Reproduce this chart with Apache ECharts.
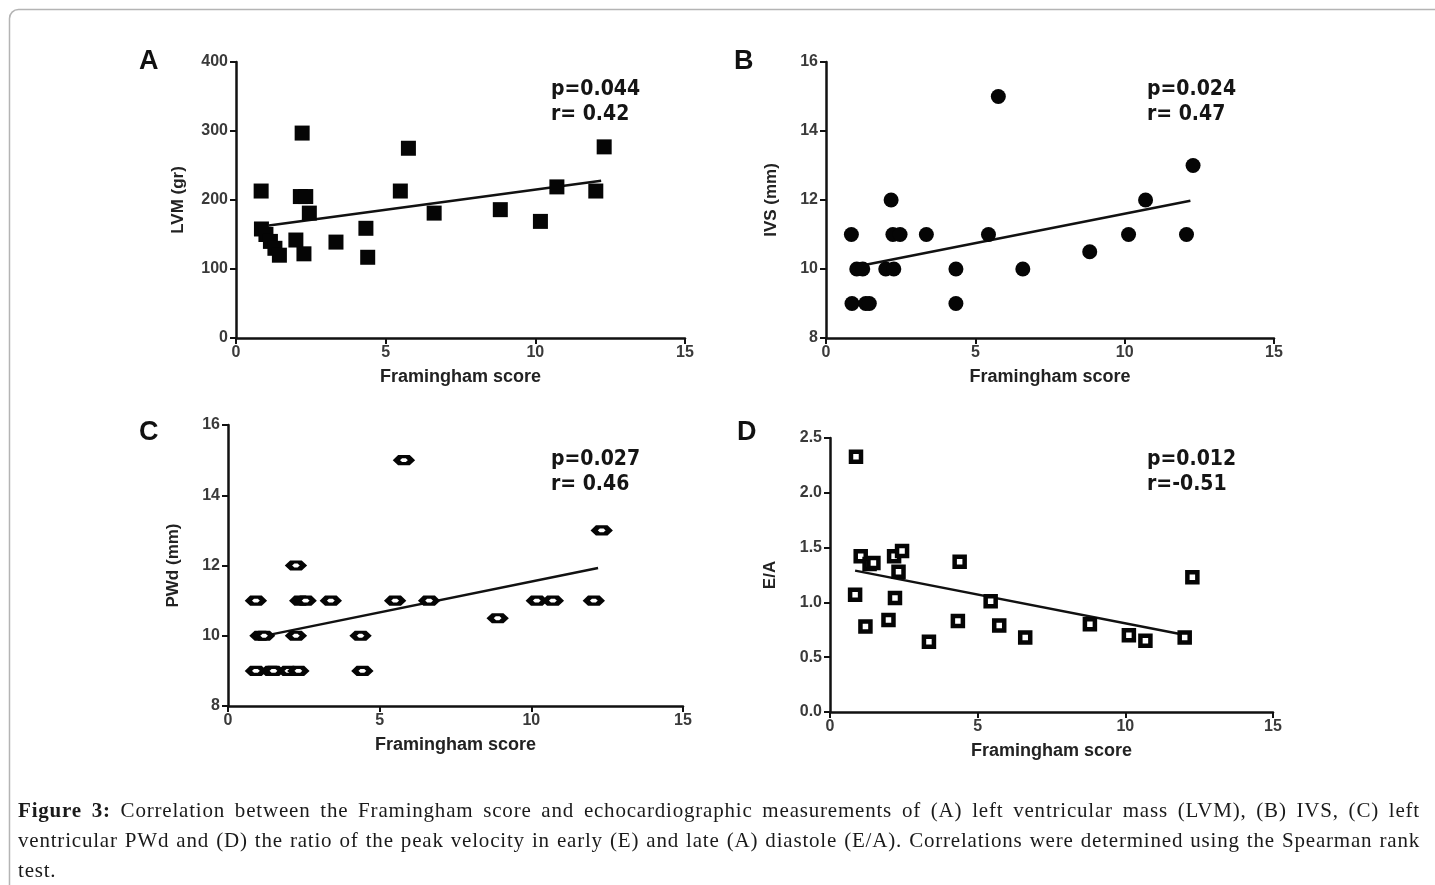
<!DOCTYPE html>
<html>
<head>
<meta charset="utf-8">
<script src="https://cdn.jsdelivr.net/npm/echarts@6/dist/echarts.min.js"></script>
<style>
  html, body { margin: 0; padding: 0; background: #fff; }
  #main { position: absolute; left: 0; top: 0; width: 1435px; height: 885px; }
  #caption {
    position: absolute; left: 18px; top: 795px; width: 1402px;
    font-family: 'Liberation Serif', serif; font-size: 21px; line-height: 30px; color: #1a1a1a;
    letter-spacing: 0.8px;
  }
  #caption .j { text-align: justify; text-align-last: justify; white-space: nowrap; }
</style>
</head>
<body>
<div id="main"></div>
<div id="caption">
  <div class="j"><b>Figure 3:</b> Correlation between the Framingham score and echocardiographic measurements of (A) left ventricular mass (LVM), (B) IVS, (C) left</div>
  <div class="j">ventricular PWd and (D) the ratio of the peak velocity in early (E) and late (A) diastole (E/A). Correlations were determined using the Spearman rank</div>
  <div>test.</div>
</div>
<script>
// A: left ventricular mass
var scoreA = [0.84, 0.85, 1.0, 1.15, 1.3, 1.45, 2.21, 2.15, 2.33, 2.45, 2.0, 2.27, 3.34, 4.34, 4.4, 5.49, 5.76, 6.62, 8.83, 10.17, 10.72, 12.02, 12.3]
var lvm = [213, 158, 150, 140, 130, 120, 297, 205, 205, 181, 142, 122, 139, 159, 117, 213, 275, 181, 186, 169, 219, 213, 277]
var fitA = [[1.1, 163], [12.2, 228]]

// B: IVS
var scoreB = [0.85, 0.87, 1.03, 1.23, 1.33, 1.45, 2.18, 2.0, 2.27, 2.24, 2.48, 3.36, 4.35, 4.35, 5.44, 5.77, 6.59, 8.83, 10.13, 10.7, 12.07, 12.29]
var ivs = [11, 9, 10, 10, 9, 9, 12, 10, 10, 11, 11, 11, 10, 9, 11, 15, 10, 10.5, 11, 12, 11, 13]
var fitB = [[1.2, 10.1], [12.2, 11.98]]

// C: PWd
var scoreC = [0.92, 0.92, 1.07, 1.19, 1.43, 1.5, 1.99, 2.32, 2.24, 2.24, 2.38, 2.56, 3.39, 4.37, 4.43, 5.51, 5.8, 6.63, 8.89, 10.18, 10.71, 12.06, 12.32]
var pwd = [11, 9, 10, 10, 9, 9, 9, 9, 12, 10, 11, 11, 11, 10, 9, 11, 15, 11, 10.5, 11, 11, 11, 13]
var fitC = [[1.15, 9.99], [12.2, 11.93]]

// D: E/A
var scoreD = [0.88, 0.85, 1.04, 1.2, 1.34, 1.47, 1.98, 2.17, 2.32, 2.2, 2.44, 3.35, 4.39, 4.33, 5.44, 5.73, 6.61, 8.8, 10.12, 10.68, 12.01, 12.27]
var ea = [2.33, 1.07, 1.42, 0.78, 1.35, 1.36, 0.84, 1.42, 1.28, 1.04, 1.47, 0.64, 1.37, 0.83, 1.01, 0.79, 0.68, 0.8, 0.7, 0.65, 0.68, 1.23]
var fitD = [[0.85, 1.29], [12.07, 0.7]]

var stats = [['p=0.044', 'r= 0.42'], ['p=0.024', 'r= 0.47'], ['p=0.027', 'r= 0.46'], ['p=0.012', 'r=-0.51']]
var panelNames = ['A', 'B', 'C', 'D']
var yNames = ['LVM (gr)', 'IVS (mm)', 'PWd (mm)', 'E/A']

function zip(xs, ys) {
  return xs.map(function (x, i) { return [x, ys[i]] })
}

var grids = [
  { left: 236, top: 62, width: 449, height: 276 },
  { left: 826, top: 62, width: 448, height: 276 },
  { left: 228, top: 425, width: 455, height: 281 },
  { left: 830, top: 438, width: 443, height: 274 },
]
var yRange = [
  { min: 0, max: 400, interval: 100, gap: 49 },
  { min: 8, max: 16, interval: 2, gap: 46 },
  { min: 8, max: 16, interval: 2, gap: 46 },
  { min: 0, max: 2.5, interval: 0.5, gap: 51 },
]

var axisText = { fontFamily: 'Liberation Sans, Arial', fontWeight: 'bold', color: '#3a3a3a', fontSize: 16 }
var xAxes = []
var yAxes = []
grids.forEach(function (g, i) {
  g.outerBoundsMode = 'none'
  xAxes.push({
    type: 'value', gridIndex: i, min: 0, max: 15, interval: 5,
    name: 'Framingham score', nameLocation: 'middle', nameGap: 30,
    nameTextStyle: { fontFamily: 'Liberation Sans, Arial', fontWeight: 'bold', fontSize: 18, color: '#222' },
    axisLine: { onZero: false, lineStyle: { color: '#111', width: 2.5 } },
    axisTick: { length: 6, lineStyle: { color: '#111', width: 2 } },
    axisLabel: Object.assign({ margin: 7 }, axisText),
    splitLine: { show: false },
  })
  var r = yRange[i]
  yAxes.push({
    type: 'value', gridIndex: i, min: r.min, max: r.max, interval: r.interval,
    name: yNames[i], nameLocation: 'middle', nameGap: r.gap,
    nameTextStyle: { fontFamily: 'Liberation Sans, Arial', fontWeight: 'bold', fontSize: 17, color: '#222' },
    axisLine: { onZero: false, lineStyle: { color: '#111', width: 2.5 } },
    axisTick: { length: 6, lineStyle: { color: '#111', width: 2 } },
    axisLabel: Object.assign({
      margin: 8,
      formatter: i === 3 ? function (v) { return v.toFixed(1) } : '{value}',
    }, axisText),
    splitLine: { show: false },
  })
})

function fitLine(i, pts) {
  return {
    type: 'line', xAxisIndex: i, yAxisIndex: i, data: pts, symbol: 'none',
    lineStyle: { color: '#111', width: 2.5 }, silent: true, z: 2,
  }
}

var hexPath = 'path://M4,0 L12,0 L16,5 L12,10 L4,10 L0,5 Z'

var series = [
  fitLine(0, fitA),
  { type: 'scatter', xAxisIndex: 0, yAxisIndex: 0, data: zip(scoreA, lvm), symbol: 'rect', symbolSize: 15,
    itemStyle: { color: '#050505', opacity: 1 }, z: 3 },
  fitLine(1, fitB),
  { type: 'scatter', xAxisIndex: 1, yAxisIndex: 1, data: zip(scoreB, ivs), symbol: 'circle', symbolSize: 15,
    itemStyle: { color: '#050505', opacity: 1 }, z: 3 },
  fitLine(2, fitC),
  { type: 'scatter', xAxisIndex: 2, yAxisIndex: 2, data: zip(scoreC, pwd), symbol: hexPath, symbolSize: [15, 7],
    itemStyle: { color: '#fff', borderColor: '#050505', borderWidth: 4.5, opacity: 1 }, z: 3 },
  fitLine(3, fitD),
  { type: 'scatter', xAxisIndex: 3, yAxisIndex: 3, data: zip(scoreD, ea), symbol: 'rect', symbolSize: 10,
    itemStyle: { color: '#fff', borderColor: '#050505', borderWidth: 4.5, opacity: 1 }, z: 3 },
]

// panel letters and p / r text
var labelPos = [[139, 48], [734, 48], [139, 419], [737, 419]]
var statPos = [[551, 90], [1147, 90], [551, 460], [1147, 460]]
var graphic = [
  {
    type: 'rect', shape: { x: 9.5, y: 9.5, width: 1600, height: 1000, r: 9 },
    style: { fill: 'none', stroke: '#b4b4b4', lineWidth: 1.5 }, silent: true,
  },
]
panelNames.forEach(function (n, i) {
  graphic.push({
    type: 'text', left: labelPos[i][0], top: labelPos[i][1],
    style: { text: n, font: 'bold 27px "Liberation Sans", Arial', fill: '#111' },
  })
  graphic.push({
    type: 'text', x: statPos[i][0], y: statPos[i][1],
    style: { text: stats[i][0], font: 'bold 21px "DejaVu Sans Condensed", "DejaVu Sans"', fill: '#151515', verticalAlign: 'middle' },
  })
  graphic.push({
    type: 'text', x: statPos[i][0], y: statPos[i][1] + 25,
    style: { text: stats[i][1], font: 'bold 21px "DejaVu Sans Condensed", "DejaVu Sans"', fill: '#151515', verticalAlign: 'middle' },
  })
})

var myChart = echarts.init(document.getElementById('main'))
var option = {
  animation: false,
  backgroundColor: '#fff',
  grid: grids,
  xAxis: xAxes,
  yAxis: yAxes,
  series: series,
  graphic: graphic,
}
myChart.setOption(option, true)
</script>
</body>
</html>
